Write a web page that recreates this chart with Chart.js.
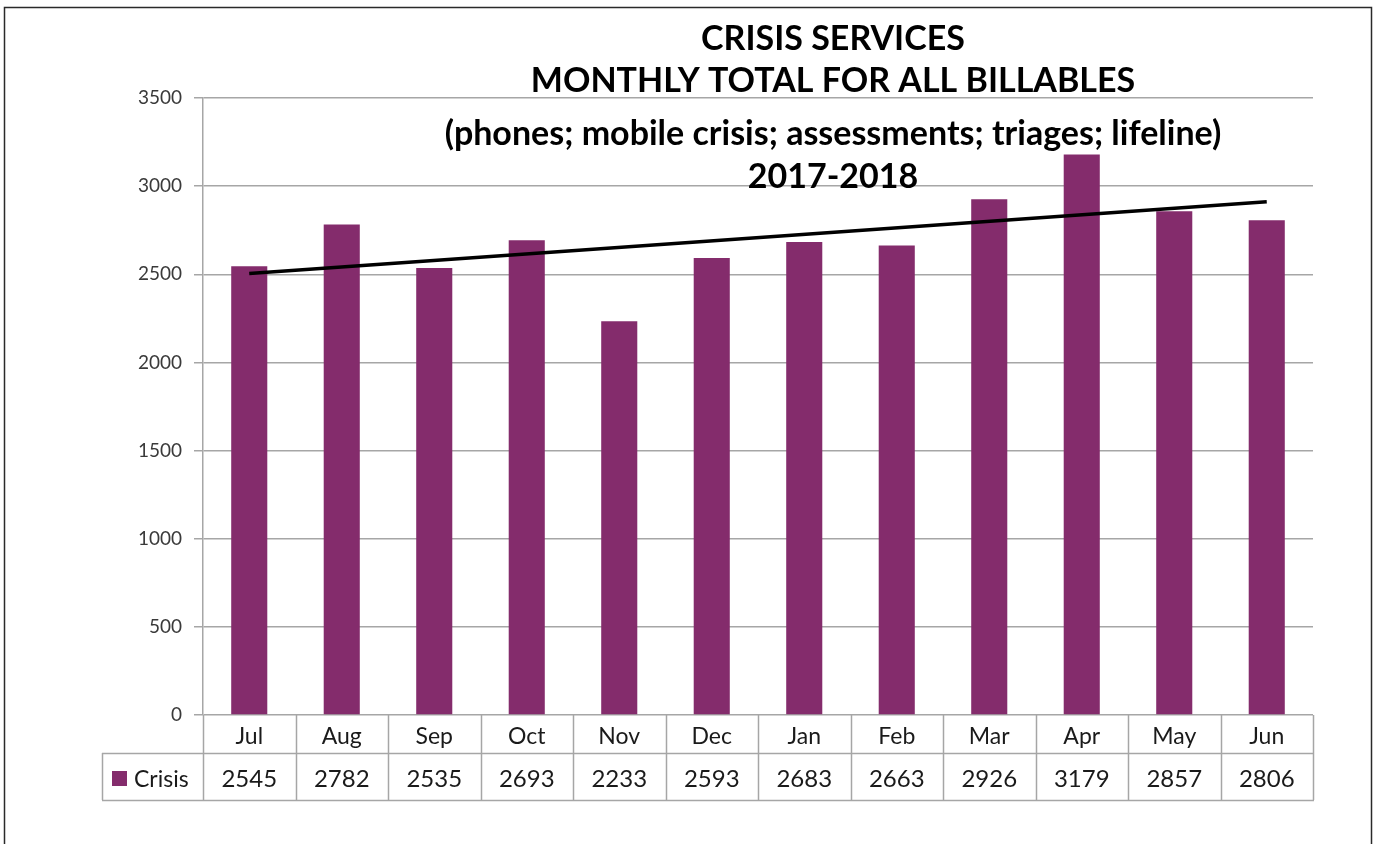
<!DOCTYPE html>
<html>
<head>
<meta charset="utf-8">
<script src="https://cdn.jsdelivr.net/npm/chart.js@4.4.0/dist/chart.umd.min.js"></script>
<style>
  html, body { margin: 0; padding: 0; background: #ffffff; }
  #wrap { width: 1376px; height: 844px; position: relative; }
</style>
</head>
<body>
<div id="wrap"><canvas id="c" width="1376" height="844"></canvas></div>
<script>
// ---- data ----
const months = ["Jul", "Aug", "Sep", "Oct", "Nov", "Dec", "Jan", "Feb", "Mar", "Apr", "May", "Jun"];
const crisisValues = [2545, 2782, 2535, 2693, 2233, 2593, 2683, 2663, 2926, 3179, 2857, 2806];
const trendValues = [2504, null, null, null, null, null, null, null, null, null, null, 2912];
const yTicks = [0, 500, 1000, 1500, 2000, 2500, 3000, 3500];
const seriesName = "Crisis";
const titleLines = [
  "CRISIS SERVICES",
  "MONTHLY TOTAL FOR ALL BILLABLES",
  "(phones; mobile crisis; assessments; triages; lifeline)",
  "2017-2018"
];

const BAR = "#842c6c";
const GRID = "#a6a6a6";
const FONT = "Lato, 'Open Sans', sans-serif";

const tablePlugin = {
  id: "tablePlugin",
  afterDraw(chart) {
    const ctx = chart.ctx;
    const xs = chart.scales.x;
    const ca = chart.chartArea;
    const n = months.length;
    const cw = (ca.right - ca.left) / n;
    const row1Top = ca.bottom, row1Bot = 753, row2Bot = 800;
    const legendLeft = 102;
    ctx.save();
    // outer border
    ctx.strokeStyle = "#2a2a2a";
    ctx.lineWidth = 1.5;
    ctx.strokeRect(4.5, 7.5, 1367, 900);

    // table lines
    ctx.strokeStyle = GRID;
    ctx.lineWidth = 1.5;
    ctx.beginPath();
    for (let i = 0; i <= n; i++) {
      const x = Math.round(ca.left + i * cw) + 0.5;
      ctx.moveTo(x, row1Top);
      ctx.lineTo(x, row2Bot);
    }
    ctx.moveTo(ca.left, row1Bot + 0.5);
    ctx.lineTo(ca.right + 0.5, row1Bot + 0.5);
    ctx.moveTo(legendLeft, row1Bot + 0.5);
    ctx.lineTo(ca.left, row1Bot + 0.5);
    ctx.moveTo(legendLeft + 0.5, row1Bot);
    ctx.lineTo(legendLeft + 0.5, row2Bot);
    ctx.moveTo(legendLeft, row2Bot + 0.5);
    ctx.lineTo(ca.right + 1, row2Bot + 0.5);
    ctx.stroke();

    // category labels
    ctx.fillStyle = "#1a1a1a";
    ctx.textAlign = "center";
    ctx.textBaseline = "middle";
    ctx.font = "23px " + FONT;
    months.forEach((m, i) => {
      ctx.fillText(m, xs.getPixelForValue(i), (row1Top + row1Bot) / 2 + 3);
    });
    // values
    ctx.font = "24px " + FONT;
    crisisValues.forEach((v, i) => {
      ctx.fillText(String(v), xs.getPixelForValue(i), (row1Bot + row2Bot) / 2 + 3);
    });
    // legend cell
    ctx.fillStyle = BAR;
    ctx.fillRect(112, 771, 15, 15);
    ctx.fillStyle = "#1a1a1a";
    ctx.textAlign = "left";
    ctx.font = "23px " + FONT;
    ctx.fillText(seriesName, 134, (row1Bot + row2Bot) / 2 + 3);

    // title
    ctx.textAlign = "center";
    ctx.fillStyle = "#000000";
    ctx.font = "bold 34px " + FONT;
    const ty = [39, 81, 134, 177];
    titleLines.forEach((t, i) => ctx.fillText(t, 833, ty[i]));
    ctx.restore();
  }
};

new Chart(document.getElementById("c"), {
  type: "bar",
  data: {
    labels: months,
    datasets: [
      {
        type: "line",
        label: "Trend",
        data: trendValues,
        spanGaps: true,
        borderColor: "#000000",
        borderWidth: 3.5,
        pointRadius: 0,
        fill: false,
        order: 0
      },
      {
        label: seriesName,
        data: crisisValues,
        backgroundColor: BAR,
        borderWidth: 0,
        barPercentage: 0.39,
        categoryPercentage: 1.0,
        order: 1
      }
    ]
  },
  plugins: [tablePlugin],
  options: {
    responsive: false,
    animation: false,
    layout: { padding: { top: 98, right: 63, bottom: 44, left: 0 } },
    plugins: { legend: { display: false }, title: { display: false }, tooltip: { enabled: false } },
    scales: {
      x: {
        offset: true,
        grid: { display: false },
        border: { display: false },
        ticks: { display: false },
        afterFit(s) { s.height = 85; }
      },
      y: {
        min: 0,
        max: 3500,
        afterBuildTicks(s) { s.ticks = yTicks.map(v => ({ value: v })); },
        grid: { color: GRID, lineWidth: 1.5, tickLength: 9 },
        border: { color: GRID, width: 1.5 },
        ticks: {
          font: { family: FONT, size: 19 },
          color: "#3a3a3a",
          padding: 12,
          callback: (v) => String(v)
        },
        afterFit(s) { s.width = 203; }
      }
    }
  }
});
</script>
</body>
</html>
